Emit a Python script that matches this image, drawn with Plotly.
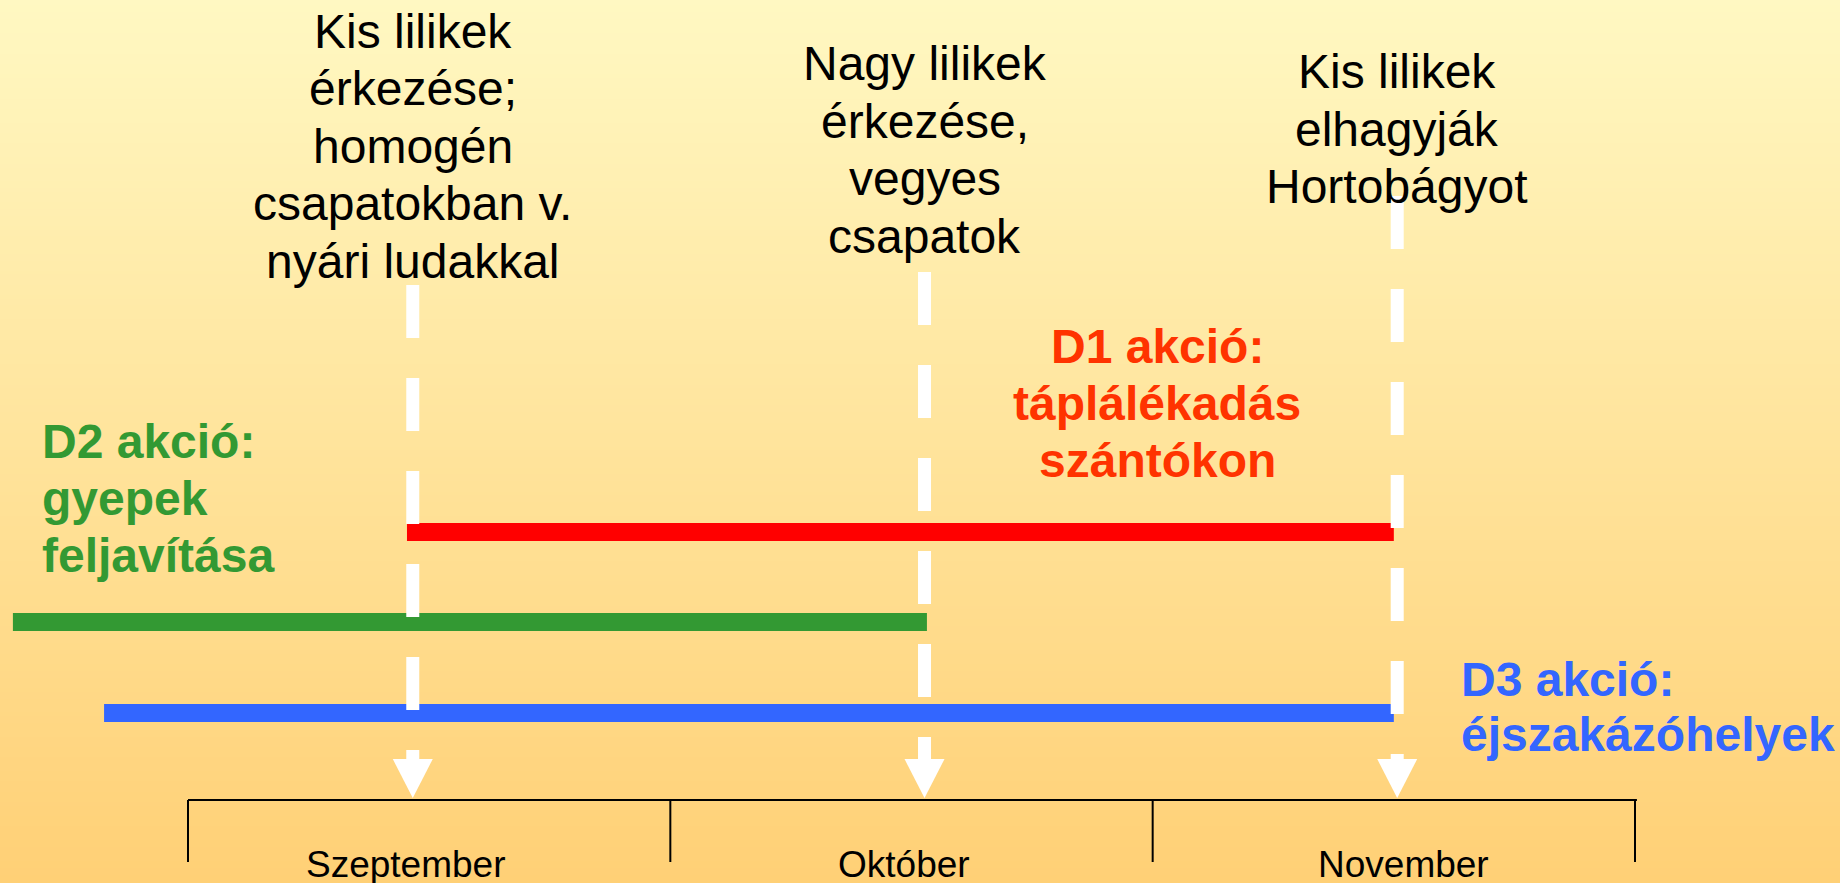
import base64
import struct
import zlib

import plotly.graph_objects as go

# ---------------- data ----------------
months = ["Szeptember", "Október", "November"]
month_edges = [0, 1, 2, 3]                      # month boundaries (Sep 1, Oct 1, Nov 1, Dec 1)

event_labels = [
    "Kis lilikek<br>érkezése;<br>homogén<br>csapatokban v.<br>nyári ludakkal",
    "Nagy lilikek<br>érkezése,<br>vegyes<br>csapatok",
    "Kis lilikek<br>elhagyják<br>Hortobágyot",
]
event_x = [0.466, 1.527, 2.507]                 # time of event, in months from Sep 1

action_labels = [
    "D1 akció:<br>táplálékadás<br>szántókon",
    "D2 akció:<br>gyepek<br>feljavítása",
    "D3 akció:<br>éjszakázóhelyek",
]
action_start = [0.454, -0.363, -0.174]
action_end = [2.500, 1.532, 2.500]

# ---------------- layout / style ----------------
W, H = 1840, 883
MONTH_PX = (1635 - 188) / 3.0
X0 = -188 / MONTH_PX
X1 = (W - 188) / MONTH_PX

FONT = "Liberation Sans, Arial, sans-serif"
action_colors = ["#FF0000", "#339933", "#3366FF"]
action_text_colors = ["#FF3300", "#339933", "#3366FF"]
action_rows = [532, 622, 713]
action_label_pos = [
    ((1157 - 188) / MONTH_PX, 403, "center"),
    ((40 - 188) / MONTH_PX, 498, "left"),
    ((1459 - 188) / MONTH_PX, 707, "left"),
]
action_line_gap = [57, 57, 55]

event_line_top = [285, 272, 196]
event_label_y = [146, 150, 129]
EVENT_LINE_GAP = 57.5
ARROW_TOP, ARROW_TIP = 759, 798
ARROW_HALF = 20 / MONTH_PX
TIMELINE_Y, TICK_BOTTOM = 800, 862
month_label_offset = [-0.048, -0.015, 0.021]


def gradient_png(h, top, bot):
    raw = b""
    for i in range(h):
        t = i / (h - 1)
        c = bytes(int(round(top[k] + (bot[k] - top[k]) * t)) for k in range(3))
        raw += b"\x00" + c

    def chunk(tag, data):
        return (struct.pack(">I", len(data)) + tag + data
                + struct.pack(">I", zlib.crc32(tag + data) & 0xffffffff))

    png = b"\x89PNG\r\n\x1a\n"
    png += chunk(b"IHDR", struct.pack(">IIBBBBB", 1, h, 8, 2, 0, 0, 0))
    png += chunk(b"IDAT", zlib.compress(raw))
    png += chunk(b"IEND", b"")
    return "data:image/png;base64," + base64.b64encode(png).decode()


fig = go.Figure()

# action bars
for s, e, y, c in zip(action_start, action_end, action_rows, action_colors):
    fig.add_trace(go.Scatter(x=[s, e], y=[y, y], mode="lines",
                             line=dict(color=c, width=18), hoverinfo="skip"))

# timeline
fig.add_trace(go.Scatter(x=[month_edges[0], month_edges[-1] + 0.004], y=[TIMELINE_Y, TIMELINE_Y],
                         mode="lines", line=dict(color="black", width=2), hoverinfo="skip"))
for m in month_edges:
    fig.add_trace(go.Scatter(x=[m, m], y=[TIMELINE_Y, TICK_BOTTOM], mode="lines",
                             line=dict(color="black", width=2), hoverinfo="skip"))

# dashed event lines with arrow heads
for x, top in zip(event_x, event_line_top):
    fig.add_trace(go.Scatter(x=[x, x], y=[top, ARROW_TOP], mode="lines",
                             line=dict(color="white", width=13, dash="53px,40px"), hoverinfo="skip"))
    fig.add_trace(go.Scatter(x=[x - ARROW_HALF, x + ARROW_HALF, x, x - ARROW_HALF],
                             y=[ARROW_TOP, ARROW_TOP, ARROW_TIP, ARROW_TOP],
                             mode="lines", fill="toself", fillcolor="white",
                             line=dict(color="white", width=0), hoverinfo="skip"))


def text_lines(txt, x, yc, gap, anchor, font):
    lines = txt.split("<br>")
    n = len(lines)
    out = []
    for i, ln in enumerate(lines):
        out.append(dict(x=x, y=yc + (i - (n - 1) / 2) * gap, xref="x", yref="y", text=ln,
                        showarrow=False, xanchor=anchor, yanchor="middle", align=anchor,
                        font=font))
    return out


annotations = []
for txt, x, y in zip(event_labels, event_x, event_label_y):
    annotations += text_lines(txt, x, y, EVENT_LINE_GAP, "center",
                              dict(family=FONT, size=48, color="black"))
for txt, (x, y, anc), c, gap in zip(action_labels, action_label_pos, action_text_colors, action_line_gap):
    bold = "<br>".join("<b>" + s + "</b>" for s in txt.split("<br>"))
    annotations += text_lines(bold, x, y, gap, anc, dict(family=FONT, size=48, color=c))
for i, name in enumerate(months):
    annotations.append(dict(x=i + 0.5 + month_label_offset[i], y=864, xref="x", yref="y", text=name,
                            showarrow=False, xanchor="center", yanchor="middle",
                            font=dict(family=FONT, size=37, color="black")))

fig.update_layout(
    width=W, height=H, autosize=False,
    margin=dict(l=0, r=0, t=0, b=0, pad=0),
    showlegend=False,
    paper_bgcolor="#FFF8C2",
    plot_bgcolor="rgba(0,0,0,0)",
    xaxis=dict(range=[X0, X1], visible=False, showgrid=False, zeroline=False, fixedrange=True),
    yaxis=dict(range=[H, 0], visible=False, showgrid=False, zeroline=False, fixedrange=True),
    annotations=annotations,
    images=[dict(source=gradient_png(256, (255, 248, 194), (255, 208, 118)),
                 xref="paper", yref="paper", x=0, y=1, sizex=1, sizey=1,
                 sizing="stretch", layer="below", xanchor="left", yanchor="top")],
)

fig.write_html(
    "out.html",
    config={"displayModeBar": False},
    post_script="document.body.style.margin='0';document.body.style.padding='0';"
                "document.body.style.overflow='hidden';"
                "document.documentElement.style.background='#FFD076';",
)
